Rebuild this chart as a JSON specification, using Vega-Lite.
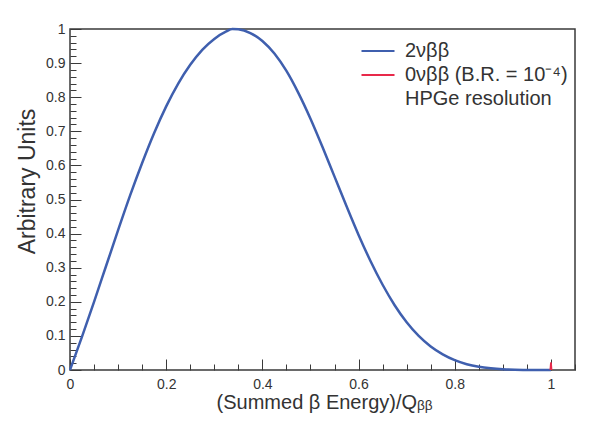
{
  "$schema": "https://vega.github.io/schema/vega-lite/v6.json",
  "width": 505,
  "height": 341,
  "autosize": "none",
  "padding": {"left": 70, "top": 29, "right": 34, "bottom": 68},
  "background": "white",
  "config": {
    "view": {"stroke": "#3a3a3a", "strokeWidth": 1.5},
    "font": "Liberation Sans"
  },
  "datasets": {
    "twonu": [
      {"x": 0, "y": 0, "series": "2νββ"},
      {"x": 0.025, "y": 0.098, "series": "2νββ"},
      {"x": 0.05, "y": 0.2, "series": "2νββ"},
      {"x": 0.075, "y": 0.305, "series": "2νββ"},
      {"x": 0.1, "y": 0.41, "series": "2νββ"},
      {"x": 0.125, "y": 0.512, "series": "2νββ"},
      {"x": 0.15, "y": 0.607, "series": "2νββ"},
      {"x": 0.175, "y": 0.695, "series": "2νββ"},
      {"x": 0.2, "y": 0.773, "series": "2νββ"},
      {"x": 0.225, "y": 0.84, "series": "2νββ"},
      {"x": 0.25, "y": 0.895, "series": "2νββ"},
      {"x": 0.275, "y": 0.939, "series": "2νββ"},
      {"x": 0.3, "y": 0.971, "series": "2νββ"},
      {"x": 0.325, "y": 0.993, "series": "2νββ"},
      {"x": 0.3375, "y": 1.0, "series": "2νββ"},
      {"x": 0.35, "y": 0.999, "series": "2νββ"},
      {"x": 0.375, "y": 0.988, "series": "2νββ"},
      {"x": 0.4, "y": 0.965, "series": "2νββ"},
      {"x": 0.425, "y": 0.928, "series": "2νββ"},
      {"x": 0.45, "y": 0.877, "series": "2νββ"},
      {"x": 0.475, "y": 0.812, "series": "2νββ"},
      {"x": 0.5, "y": 0.737, "series": "2νββ"},
      {"x": 0.525, "y": 0.654, "series": "2νββ"},
      {"x": 0.55, "y": 0.567, "series": "2νββ"},
      {"x": 0.575, "y": 0.48, "series": "2νββ"},
      {"x": 0.6, "y": 0.396, "series": "2νββ"},
      {"x": 0.625, "y": 0.319, "series": "2νββ"},
      {"x": 0.65, "y": 0.25, "series": "2νββ"},
      {"x": 0.675, "y": 0.19, "series": "2νββ"},
      {"x": 0.7, "y": 0.14, "series": "2νββ"},
      {"x": 0.725, "y": 0.1, "series": "2νββ"},
      {"x": 0.75, "y": 0.069, "series": "2νββ"},
      {"x": 0.775, "y": 0.046, "series": "2νββ"},
      {"x": 0.8, "y": 0.029, "series": "2νββ"},
      {"x": 0.825, "y": 0.017, "series": "2νββ"},
      {"x": 0.85, "y": 0.0095, "series": "2νββ"},
      {"x": 0.875, "y": 0.005, "series": "2νββ"},
      {"x": 0.9, "y": 0.0022, "series": "2νββ"},
      {"x": 0.925, "y": 0.0008, "series": "2νββ"},
      {"x": 0.95, "y": 0.0002, "series": "2νββ"},
      {"x": 0.975, "y": 0, "series": "2νββ"},
      {"x": 1.0, "y": 0, "series": "2νββ"}
    ],
    "zeronu": [
      {"x": 0.9985, "y": 0, "series": "0νββ (B.R. = 10⁻⁴)"},
      {"x": 0.9995, "y": 0.018, "series": "0νββ (B.R. = 10⁻⁴)"},
      {"x": 1.0, "y": 0.022, "series": "0νββ (B.R. = 10⁻⁴)"},
      {"x": 1.0005, "y": 0.018, "series": "0νββ (B.R. = 10⁻⁴)"},
      {"x": 1.0015, "y": 0, "series": "0νββ (B.R. = 10⁻⁴)"}
    ]
  },
  "encoding": {
    "x": {
      "field": "x",
      "type": "quantitative",
      "scale": {"domain": [0, 1.05], "nice": false, "zero": false},
      "axis": {
        "values": [0, 0.05, 0.1, 0.15, 0.2, 0.25, 0.3, 0.35, 0.4, 0.45, 0.5, 0.55, 0.6, 0.65, 0.7, 0.75, 0.8, 0.85, 0.9, 0.95, 1.0, 1.05],
        "format": "~g",
        "labelExpr": "abs(datum.value*5 - round(datum.value*5)) < 0.001 ? datum.label : ''",
        "tickSize": {"condition": {"test": "abs(datum.value*5 - round(datum.value*5)) < 0.001", "value": -11}, "value": -6},
        "labelPadding": 18,
        "domain": false,
        "grid": false,
        "tickColor": "#3a3a3a",
        "tickWidth": 1,
        "labelFontSize": 14,
        "labelColor": "#333333",
        "labelFlush": false,
        "labelOverlap": false,
        "title": "(Summed β Energy)/Qᵦᵦ",
        "titleFontSize": 20,
        "titleFontWeight": "normal",
        "titleColor": "#333333",
        "titleX": 254,
        "titleY": 38,
        "titleAlign": "center",
        "titleBaseline": "alphabetic"
      }
    },
    "y": {
      "field": "y",
      "type": "quantitative",
      "scale": {"domain": [0, 1], "nice": false},
      "axis": {
        "values": [0, 0.02, 0.04, 0.06, 0.08, 0.1, 0.12, 0.14, 0.16, 0.18, 0.2, 0.22, 0.24, 0.26, 0.28, 0.3, 0.32, 0.34, 0.36, 0.38, 0.4, 0.42, 0.44, 0.46, 0.48, 0.5, 0.52, 0.54, 0.56, 0.58, 0.6, 0.62, 0.64, 0.66, 0.68, 0.7, 0.72, 0.74, 0.76, 0.78, 0.8, 0.82, 0.84, 0.86, 0.88, 0.9, 0.92, 0.94, 0.96, 0.98, 1.0],
        "format": "~g",
        "labelExpr": "abs(datum.value*10 - round(datum.value*10)) < 0.001 ? datum.label : ''",
        "tickSize": {"condition": {"test": "abs(datum.value*10 - round(datum.value*10)) < 0.001", "value": -11}, "value": -6},
        "labelPadding": 16,
        "domain": false,
        "grid": false,
        "tickColor": "#3a3a3a",
        "tickWidth": 1,
        "labelFontSize": 14,
        "labelColor": "#333333",
        "labelFlush": false,
        "labelOverlap": false,
        "title": "Arbitrary Units",
        "titleFontSize": 23,
        "titleFontWeight": "normal",
        "titleColor": "#333333",
        "titleX": -43,
        "titleY": 152,
        "titleAngle": 270,
        "titleAlign": "center",
        "titleBaseline": "middle"
      }
    },
    "color": {
      "field": "series",
      "type": "nominal",
      "scale": {
        "domain": ["2νββ", "0νββ (B.R. = 10⁻⁴)", "HPGe resolution"],
        "range": ["#3f5fae", "#e8294a", "rgba(0,0,0,0)"]
      },
      "legend": {
        "orient": "none",
        "legendX": 298,
        "legendY": 12,
        "title": null,
        "symbolType": "M-3,0H3",
        "symbolSize": 121,
        "symbolStrokeWidth": 2,
        "labelFontSize": 20,
        "labelColor": "#333333",
        "labelOffset": 17,
        "labelLimit": 300,
        "rowPadding": 4,
        "padding": 0
      }
    }
  },
  "layer": [
    {
      "data": {"name": "twonu"},
      "mark": {"type": "line", "strokeWidth": 2.5, "interpolate": "monotone"}
    },
    {
      "data": {"name": "zeronu"},
      "mark": {"type": "line", "strokeWidth": 1.5}
    }
  ]
}
